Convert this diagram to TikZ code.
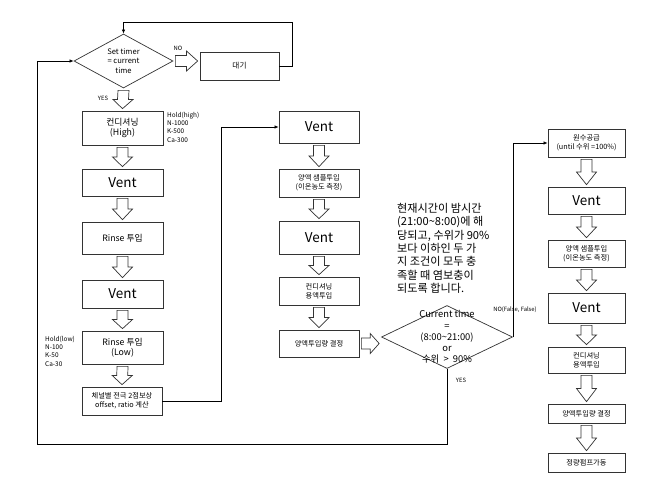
\documentclass[tikz,border=0pt]{standalone}
\usepackage{fontspec}
\setmainfont{Noto Sans CJK KR}
\usetikzlibrary{shapes.geometric,arrows.meta,calc}

\newcommand{\fsz}[2]{\fontsize{#1}{#2}\selectfont}
\newcommand{\tld}{{\char"7E}}
% hollow block arrows between two nodes
\newcommand{\blkdown}[2]{%
  \draw[blkarr] ($(#1.south)+(-5.5,2)$) -- ($(#1.south)!.5!(#2.north)+(-5.5,0)$)
    -- ($(#1.south)!.5!(#2.north)+(-10,0)$) -- ($(#2.north)+(0,-2)$)
    -- ($(#1.south)!.5!(#2.north)+(10,0)$) -- ($(#1.south)!.5!(#2.north)+(5.5,0)$)
    -- ($(#1.south)+(5.5,2)$) -- cycle;}
\newcommand{\blkright}[2]{%
  \draw[blkarr] ($(#1.east)+(2,-5.5)$) -- ($(#1.east)!.5!(#2.west|-#1.east)+(0,-5.5)$)
    -- ($(#1.east)!.5!(#2.west|-#1.east)+(0,-10)$) -- ($(#2.west|-#1.east)+(-2,0)$)
    -- ($(#1.east)!.5!(#2.west|-#1.east)+(0,10)$) -- ($(#1.east)!.5!(#2.west|-#1.east)+(0,5.5)$)
    -- ($(#1.east)+(2,5.5)$) -- cycle;}

\begin{document}
\begin{tikzpicture}[x=0.03cm, y=-0.03cm,
	box/.style={rectangle, draw=black!80, line width=0.6pt, align=center, inner sep=1pt, minimum width=#1},
	box/.default=2.4cm,
	decision/.style={diamond, draw=black!80, line width=0.6pt, inner sep=0pt},
	flow/.style={line width=0.6pt, -{Latex[length=3.5pt,width=3pt]}},
	blkarr/.style={draw=black!80, line width=0.6pt, fill=white},
	txtbig/.style={font=\fsz{11.5}{13}},
	txtmid/.style={font=\fsz{7.5}{8.5}},
	txtsmall/.style={font=\fsz{6.2}{7.7}},
	txttiny/.style={font=\fsz{5.5}{7}, align=left, inner sep=0pt},
	txtlabel/.style={font=\fsz{5}{6}, inner sep=0pt}]
	\useasboundingbox (0,0) rectangle (659,497);

	% timer check
	\node[decision, minimum width=2.97cm, minimum height=1.62cm, label={[align=center, font=\fsz{6.5}{8}]center:{Set timer\\= current\\time}}] (cond0) at (123.5,61) {};
	\node[box=2.37cm, minimum height=0.84cm, font=\fsz{6.5}{8}] (wait0) at (239.5,66) {대기};
	\node[txtlabel] (no0) at (178,48) {NO};
	\node[txtlabel] (yes0) at (103,98) {YES};

	% left column
	\node[box=2.43cm, minimum height=1.02cm, txtmid] (left0) at (122.5,128) {컨디셔닝\\(High)};
	\node[box=2.43cm, minimum height=0.81cm, txtbig] (left1) at (122.5,182.5) {Vent};
	\node[box=2.43cm, minimum height=0.96cm, txtmid] (left2) at (122.5,238) {Rinse 투입};
	\node[box=2.43cm, minimum height=0.84cm, txtbig] (left3) at (122.5,294) {Vent};
	\node[box=2.43cm, minimum height=0.99cm, txtmid] (left4) at (122.5,347.5) {Rinse 투입\\(Low)};
	\node[box=2.4cm, minimum height=0.84cm, txtsmall] (left5) at (122,401) {체널별 전극 2점보상\\offset, ratio 계산};
	\node[txttiny, anchor=north west] (hold0) at (167,112) {Hold(high)\\N-1000\\K-500\\Ca-300};
	\node[txttiny, anchor=north west] (hold1) at (45,336) {Hold(low)\\N-100\\K-50\\Ca-30};

	% middle column
	\node[box, minimum height=0.96cm, txtbig] (mid0) at (319,127) {Vent};
	\node[box, minimum height=0.84cm, txtsmall] (mid1) at (319,183) {양액 샘플투입\\(이온농도 측정)};
	\node[box, minimum height=0.99cm, txtbig] (mid2) at (319,237.5) {Vent};
	\node[box, minimum height=0.84cm, txtsmall] (mid3) at (319,291) {컨디셔닝\\용액투입};
	\node[box, minimum height=0.81cm, txtsmall] (mid4) at (319,343.5) {양액투입량 결정};

	% night-time condition
	\node[font=\fsz{9.5}{11.4}, align=left, anchor=north west, inner sep=0pt] (note0) at (397,203) {현재시간이 밤시간\\(21:00\tld 8:00)에 해\\당되고, 수위가 90\%\\보다 이하인 두 가\\지 조건이 모두 충\\족할 때 염보충이\\되도록 합니다.};
	\node[decision, minimum width=3.93cm, minimum height=1.89cm, label={[align=center, font=\fsz{8}{9.6}]center:{Current time\\=\\(8:00\tld 21:00)\\or\\수위 \ > \ 90\%}}] (cond1) at (447,337) {};
	\node[txtlabel] (no1) at (515,310) {NO(False, False)};
	\node[txtlabel] (yes1) at (461,380) {YES};

	% right column
	\node[box=2.31cm, minimum height=0.84cm, txtsmall] (right0) at (586.5,143) {원수공급\\(until 수위 =100\%)};
	\node[box=2.31cm, minimum height=0.81cm, txtbig] (right1) at (586.5,200.5) {Vent};
	\node[box=2.31cm, minimum height=0.81cm, txtsmall] (right2) at (586.5,253.5) {양액 샘플투입\\(이온농도 측정)};
	\node[box=2.31cm, minimum height=0.9cm, txtbig] (right3) at (586.5,308) {Vent};
	\node[box=2.31cm, minimum height=0.78cm, txtsmall] (right4) at (586.5,360) {컨디셔닝\\용액투입};
	\node[box=2.31cm, minimum height=0.57cm, txtsmall] (right5) at (586.5,413.5) {양액투입량 결정};
	\node[box=2.31cm, minimum height=0.57cm, txtsmall] (right6) at (586.5,462.5) {정량펌프가동};

	% connectors
	\draw[flow] (wait0.east) -| ++(13,-44) -| (cond0.north);
	\draw[flow] (left5.east) -- ++(59,0) |- (mid0.west);
	\draw[flow] (cond1.east) |- (right0.west);
	\coordinate (loop0) at (37,444);
	\draw[flow] (cond1.south) |- (loop0) |- (cond0.west);

	% block arrows
	\blkright{cond0}{wait0}
	\blkdown{cond0}{left0}
	\blkdown{left0}{left1}
	\blkdown{left1}{left2}
	\blkdown{left2}{left3}
	\blkdown{left3}{left4}
	\blkdown{left4}{left5}
	\blkdown{mid0}{mid1}
	\blkdown{mid1}{mid2}
	\blkdown{mid2}{mid3}
	\blkdown{mid3}{mid4}
	\blkright{mid4}{cond1}
	\blkdown{right0}{right1}
	\blkdown{right1}{right2}
	\blkdown{right2}{right3}
	\blkdown{right3}{right4}
	\blkdown{right4}{right5}
	\blkdown{right5}{right6}
\end{tikzpicture}
\end{document}
